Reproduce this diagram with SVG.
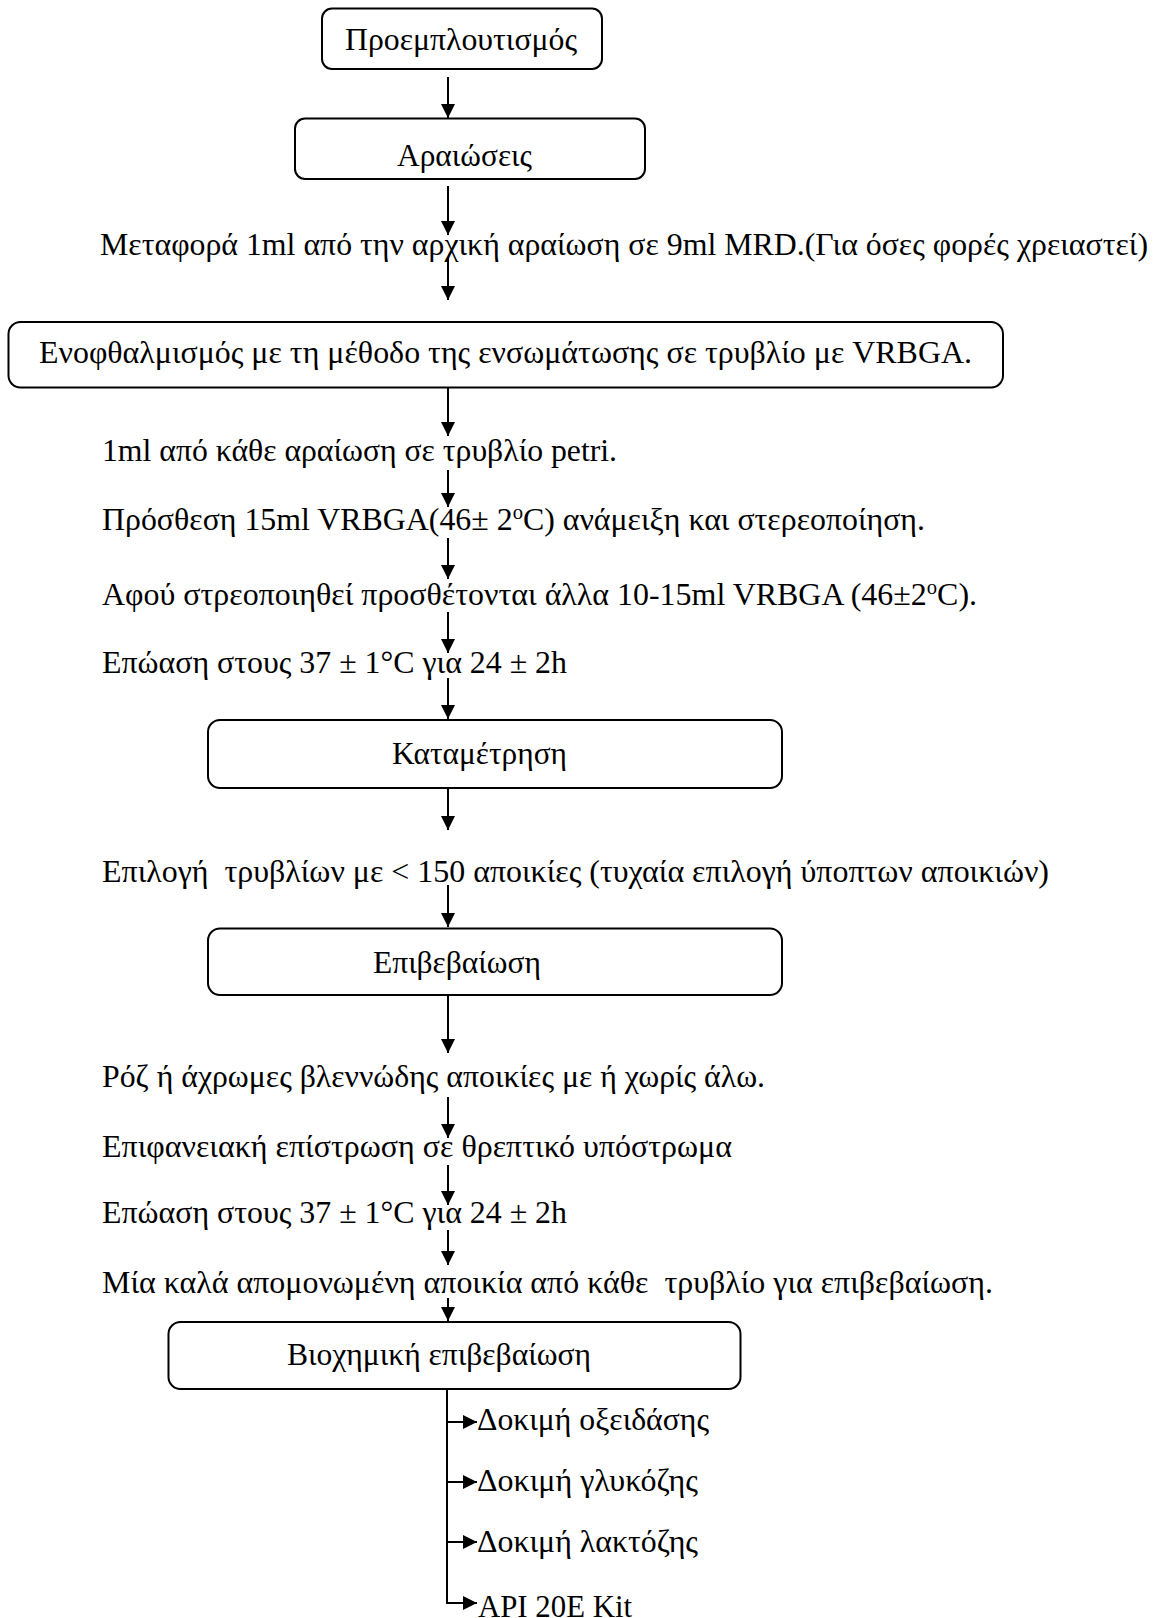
<svg xmlns="http://www.w3.org/2000/svg" width="1157" height="1618" viewBox="0 0 1157 1618">
<defs>
<style>
text{font-family:"Liberation Serif","Times New Roman",serif;font-size:31px;fill:#000}
.box{fill:#fff;stroke:#000;stroke-width:2}
#connectors line{stroke:#000;stroke-width:2}
</style>
<marker id="ah" markerUnits="userSpaceOnUse" markerWidth="14" markerHeight="14" refX="14" refY="7" orient="auto" viewBox="0 0 14 14"><path d="M0,0 L14,7 L0,14 z" fill="#000"/></marker>
</defs>
<rect width="1157" height="1618" fill="#fff"/>
<g id="n1"><rect class="box" x="322" y="8.5" width="280" height="60.5" rx="10"/><text x="345" y="50" textLength="232" lengthAdjust="spacingAndGlyphs">Προεμπλουτισμός</text></g>
<g id="n2"><rect class="box" x="295" y="118.5" width="350" height="60.5" rx="10"/><text x="397" y="166" textLength="135" lengthAdjust="spacingAndGlyphs">Αραιώσεις</text></g>
<g id="t1"><text x="100" y="255" textLength="1048" lengthAdjust="spacingAndGlyphs">Μεταφορά 1ml από την αρχική αραίωση σε 9ml MRD.(Για όσες φορές χρειαστεί)</text></g>
<g id="n3"><rect class="box" x="8.5" y="322" width="994.5" height="65.5" rx="12"/><text x="39" y="363" textLength="933" lengthAdjust="spacingAndGlyphs">Ενοφθαλμισμός με τη μέθοδο της ενσωμάτωσης σε τρυβλίο με VRBGA.</text></g>
<g id="t2"><text x="102" y="461" textLength="515" lengthAdjust="spacingAndGlyphs">1ml από κάθε αραίωση σε τρυβλίο petri.</text></g>
<g id="t3"><text x="102" y="530" textLength="823" lengthAdjust="spacingAndGlyphs">Πρόσθεση 15ml VRBGA(46± 2<tspan dy="-11" font-size="20">o</tspan><tspan dy="11">C) ανάμειξη και στερεοποίηση.</tspan></text></g>
<g id="t4"><text x="102" y="605" textLength="875" lengthAdjust="spacingAndGlyphs">Αφού στρεοποιηθεί προσθέτονται άλλα 10-15ml VRBGA (46±2<tspan dy="-11" font-size="20">o</tspan><tspan dy="11">C).</tspan></text></g>
<g id="t5"><text x="102" y="673" textLength="465" lengthAdjust="spacingAndGlyphs">Επώαση στους 37 ± 1°C για 24 ± 2h</text></g>
<g id="n4"><rect class="box" x="208" y="720" width="574" height="68" rx="12"/><text x="392" y="764" textLength="175" lengthAdjust="spacingAndGlyphs">Καταμέτρηση</text></g>
<g id="t6"><text x="102" y="882" xml:space="preserve" textLength="947" lengthAdjust="spacingAndGlyphs">Επιλογή  τρυβλίων με &lt; 150 αποικίες (τυχαία επιλογή ύποπτων αποικιών)</text></g>
<g id="n5"><rect class="box" x="208" y="928.5" width="574" height="66.5" rx="12"/><text x="373" y="973" textLength="168" lengthAdjust="spacingAndGlyphs">Επιβεβαίωση</text></g>
<g id="t7"><text x="102" y="1087" textLength="663" lengthAdjust="spacingAndGlyphs">Ρόζ ή άχρωμες βλεννώδης αποικίες με ή χωρίς άλω.</text></g>
<g id="t8"><text x="102" y="1157" textLength="630" lengthAdjust="spacingAndGlyphs">Επιφανειακή επίστρωση σε θρεπτικό υπόστρωμα</text></g>
<g id="t9"><text x="102" y="1223" textLength="465" lengthAdjust="spacingAndGlyphs">Επώαση στους 37 ± 1°C για 24 ± 2h</text></g>
<g id="t10"><text x="102" y="1293" xml:space="preserve" textLength="891" lengthAdjust="spacingAndGlyphs">Μία καλά απομονωμένη αποικία από κάθε  τρυβλίο για επιβεβαίωση.</text></g>
<g id="n6"><rect class="box" x="168.5" y="1322" width="572" height="67" rx="12"/><text x="287" y="1365" textLength="304" lengthAdjust="spacingAndGlyphs">Βιοχημική επιβεβαίωση</text></g>
<g id="b1"><text x="477" y="1430" textLength="232" lengthAdjust="spacingAndGlyphs">Δοκιμή οξειδάσης</text></g>
<g id="b2"><text x="477" y="1491" textLength="221" lengthAdjust="spacingAndGlyphs">Δοκιμή γλυκόζης</text></g>
<g id="b3"><text x="477" y="1552" textLength="221" lengthAdjust="spacingAndGlyphs">Δοκιμή λακτόζης</text></g>
<g id="b4"><text x="478" y="1617" textLength="154" lengthAdjust="spacingAndGlyphs">API 20E Kit</text></g>
<g id="connectors">
<line x1="448" y1="77" x2="448" y2="118" marker-end="url(#ah)"/>
<line x1="448" y1="186" x2="448" y2="235" marker-end="url(#ah)"/>
<line x1="448" y1="257" x2="448" y2="300" marker-end="url(#ah)"/>
<line x1="448" y1="388" x2="448" y2="436" marker-end="url(#ah)"/>
<line x1="448" y1="470" x2="448" y2="507" marker-end="url(#ah)"/>
<line x1="448" y1="538" x2="448" y2="579" marker-end="url(#ah)"/>
<line x1="448" y1="612" x2="448" y2="653" marker-end="url(#ah)"/>
<line x1="448" y1="678" x2="448" y2="719" marker-end="url(#ah)"/>
<line x1="448" y1="789" x2="448" y2="830" marker-end="url(#ah)"/>
<line x1="448" y1="885" x2="448" y2="927" marker-end="url(#ah)"/>
<line x1="448" y1="996" x2="448" y2="1053" marker-end="url(#ah)"/>
<line x1="448" y1="1097" x2="448" y2="1138" marker-end="url(#ah)"/>
<line x1="448" y1="1165" x2="448" y2="1205" marker-end="url(#ah)"/>
<line x1="448" y1="1230" x2="448" y2="1265" marker-end="url(#ah)"/>
<line x1="448" y1="1298" x2="448" y2="1321" marker-end="url(#ah)"/>
<line x1="447" y1="1389" x2="447" y2="1604"/>
<line x1="446" y1="1422" x2="477" y2="1422" marker-end="url(#ah)"/>
<line x1="446" y1="1482" x2="477" y2="1482" marker-end="url(#ah)"/>
<line x1="446" y1="1542" x2="477" y2="1542" marker-end="url(#ah)"/>
<line x1="446" y1="1603" x2="477" y2="1603" marker-end="url(#ah)"/>
</g>
</svg>
